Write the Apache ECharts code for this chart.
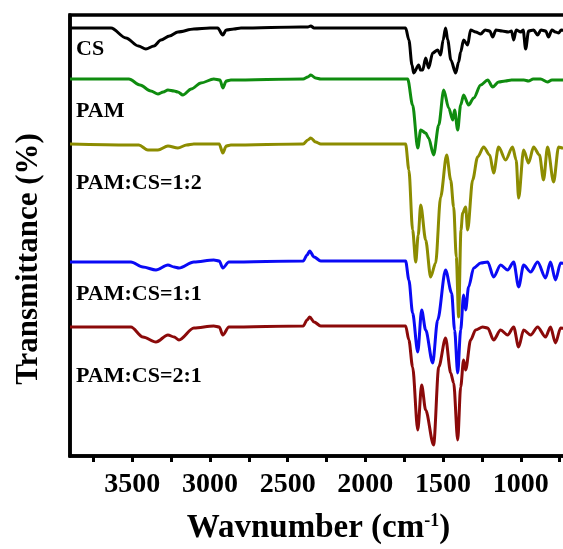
<!DOCTYPE html>
<html>
<head>
<meta charset="utf-8">
<script src="https://cdn.jsdelivr.net/npm/echarts@6/dist/echarts.min.js"></script>
<style>html,body{margin:0;padding:0;background:#fff}#c{width:563px;height:549px}</style>
</head>
<body>
<div id="c"></div>
<script>
// Wavenumbers (cm-1) and offset transmittance (a.u.)
const csWn = [3900,3636,3540,3460,3412,3360,3315,3260,3206,3103,3000,2950,2917,2895,2846,2800,2415,2370,2351,2330,1741,1720,1700,1689,1657,1645,1631,1612,1593,1567,1535,1516,1500,1484,1470,1450,1419,1400,1387,1368,1342,1323,1290,1258,1230,1200,1181,1160,1120,1080,1060,1046,1030,1000,985,969,950,918,892,870,840,822,800,777,757,740,700];
const csT  = [428,428,418,410,407,410,416,420,424,427,428,428,421,426,427,428,429,429,430,428,428,416,391,383,391,386,386,398,388,403,406,401,416,428,416,396,383,394,404,416,411,426,424,422,426,425,419,426,425,424,425,416,426,424,426,407,425,426,421,426,425,419,426,424,423,426,425];

const pamWn = [3900,3521,3450,3380,3334,3300,3270,3230,3206,3174,3120,3058,2975,2935,2917,2895,2865,2400,2370,2351,2320,2287,1728,1696,1663,1644,1612,1593,1561,1528,1496,1464,1438,1426,1406,1387,1368,1336,1303,1258,1213,1181,1143,1100,1060,1021,980,950,920,873,828,800,764,732,700];
const pamT  = [377,377,371,365,362,364,366,365,364,361,367,373,377,376,368,375,376,377,379,381,378,377,377,351,308,326,323,318,301,331,366,348,336,346,326,351,361,351,358,371,376,369,374,375,376,376,376,375,377,377,374,376,376,376,376];

const r12Wn = [3900,3520,3457,3399,3334,3270,3206,3150,3103,2940,2917,2895,2865,2400,2370,2351,2320,2287,1741,1720,1696,1676,1660,1644,1612,1580,1548,1516,1477,1451,1432,1415,1400,1385,1374,1355,1342,1310,1278,1239,1200,1175,1143,1098,1053,1030,1014,982,950,918,880,854,828,789,757,732,700];
const r12T  = [312,311,311,306,306,310,308,311,312,312,303,310,311,312,316,318,314,312,312,286,226,194,221,251,216,179,193,259,301,276,249,199,139,226,243,249,226,276,299,309,301,283,309,296,309,296,258,306,293,309,301,276,309,274,309,308,306];

const r11Wn = [3900,3508,3431,3347,3270,3230,3199,3103,2975,2940,2917,2878,2400,2375,2358,2330,2287,1741,1720,1696,1663,1638,1612,1567,1535,1484,1445,1426,1406,1387,1368,1355,1336,1303,1258,1213,1175,1130,1085,1046,1014,982,937,892,841,809,777,744,700];
const r11T  = [194,194,189,186,191,189,188,194,196,195,188,194,195,201,205,199,195,195,176,143,104,146,126,93,136,186,163,126,83,126,161,146,169,188,193,194,179,191,186,194,169,191,184,194,178,194,176,193,192];

const r21Wn = [3900,3508,3431,3347,3270,3230,3199,3103,2975,2940,2917,2878,2400,2375,2358,2330,2287,1741,1720,1696,1663,1638,1612,1561,1528,1484,1451,1432,1406,1387,1368,1355,1323,1291,1245,1213,1175,1130,1085,1046,1014,982,937,892,841,809,777,744,700];
const r21T  = [129,129,119,114,121,119,116,128,130,129,121,129,130,136,139,134,130,130,116,89,26,71,46,11,89,118,83,73,16,69,96,86,116,126,129,128,116,126,121,129,109,126,121,129,119,129,113,128,127];

const seriesNames = ['CS','PAM','PAM:CS=1:2','PAM:CS=1:1','PAM:CS=2:1'];
const seriesColors = ['#000000','#0f8c0f','#8c8c00','#0a0af5','#8b0a0a'];
const xTicks = [3750,3500,3250,3000,2750,2500,2250,2000,1750,1500,1250,1000,750];
const xLabels = [3500,3000,2500,2000,1500,1000];

const wnList = [csWn, pamWn, r12Wn, r11Wn, r21Wn];
const tList = [csT, pamT, r12T, r11T, r21T];
const labelY = [49, 111, 183, 294, 376];

const serif = '"Liberation Serif","Times New Roman",serif';

const series = [];
for (let i = 4; i >= 0; i--) {
  series.push({
    name: seriesNames[i],
    type: 'line',
    data: wnList[i].map((w, k) => [w, tList[i][k]]),
    showSymbol: false,
    smooth: 0.3,
    smoothMonotone: 'x',
    lineStyle: { color: seriesColors[i], width: 3 },
    itemStyle: { color: seriesColors[i] },
    z: 3 + (4 - i)
  });
}

const graphics = seriesNames.map((n, i) => ({
  type: 'text',
  z: 100,
  style: {
    text: n, x: 76, y: labelY[i],
    font: 'bold 22px ' + serif,
    fill: '#000',
    verticalAlign: 'middle', align: 'left'
  }
}));
graphics.push({
  type: 'text',
  z: 100,
  x: 29, y: 259,
  rotation: Math.PI / 2,
  style: {
    text: 'Transmittance (%)',
    font: 'bold 31px ' + serif,
    fill: '#000',
    align: 'center', verticalAlign: 'middle'
  }
});

const chart = echarts.init(document.getElementById('c'), null, { renderer: 'canvas' });
chart.setOption({
  animation: false,
  backgroundColor: '#ffffff',
  grid: {
    left: 70, top: 15, right: -20, bottom: 93,
    outerBoundsMode: 'none',
    containLabel: false,
    show: true, borderColor: '#000', borderWidth: 3.5, backgroundColor: 'transparent'
  },
  xAxis: {
    type: 'value',
    inverse: true,
    min: 600, max: 3900,
    name: 'Wavnumber (cm{sup|-1})',
    nameLocation: 'middle',
    nameGap: 56,
    nameTextStyle: {
      fontFamily: serif, fontWeight: 'bold', fontSize: 33, color: '#000',
      padding: [0, 16, 0, 0],
      rich: { sup: { fontFamily: serif, fontWeight: 'bold', fontSize: 18, color: '#000', verticalAlign: 'top' } }
    },
    splitLine: { show: false },
    axisLine: { show: true, onZero: false, lineStyle: { color: '#000', width: 3.5 } },
    axisTick: { show: true, inside: false, length: 6, customValues: xTicks, lineStyle: { color: '#000', width: 3 } },
    axisLabel: { show: true, margin: 15, customValues: xLabels, formatter: v => String(v), fontFamily: serif, fontWeight: 'bold', fontSize: 28, color: '#000' }
  },
  yAxis: {
    type: 'value',
    min: 0, max: 441,
    splitLine: { show: false },
    axisLine: { show: true, lineStyle: { color: '#000', width: 3.5 } },
    axisTick: { show: false },
    axisLabel: { show: false }
  },
  series: series,
  graphic: graphics
});
</script>
</body>
</html>
